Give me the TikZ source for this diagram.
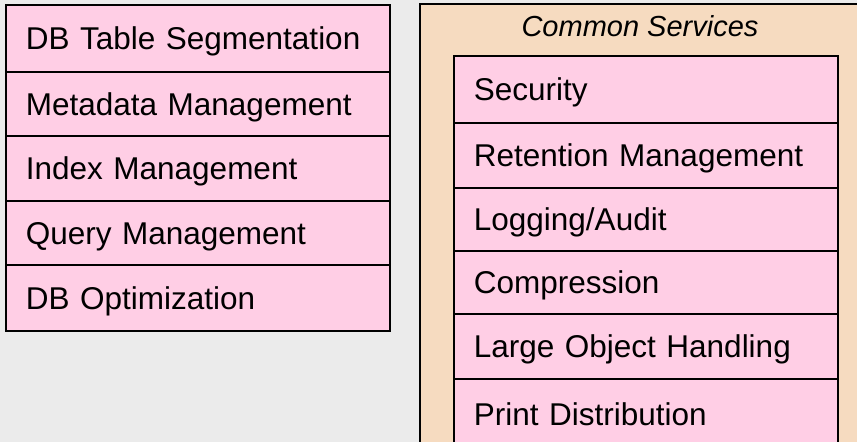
\documentclass[tikz,border=0pt]{standalone}
\usepackage{fontspec}
\setmainfont{Liberation Sans}
\definecolor{bgray}{RGB}{235,235,235}
\definecolor{rowpink}{RGB}{255,206,229}
\definecolor{tanfill}{RGB}{246,219,192}
\begin{document}
\begin{tikzpicture}[x=1bp,y=-1bp,
  rowbox/.style={draw=black, line width=1.8bp, fill=rowpink, anchor=north west,
    text width=344bp, inner xsep=20bp, inner ysep=0pt, minimum height=#1,
    text height=22.6bp, text depth=0pt, align=left,
    font=\fontsize{31.5bp}{36bp}\selectfont},
  outerbox/.style={draw=black, line width=2bp, fill=tanfill, anchor=north west,
    inner sep=0pt},
  titletext/.style={anchor=base, inner sep=0pt, font=\fontsize{29bp}{34bp}\selectfont\itshape}]
\useasboundingbox (0,0) rectangle (857,442);
\clip (0,0) rectangle (857,442);
\fill[bgray] (0,0) rectangle (857,442);
% left stack
\node[rowbox=67bp] (l1) at (5,4) {DB Table Segmentation};
\node[rowbox=64bp] (l2) at (5,71) {Metadata Management};
\node[rowbox=65bp] (l3) at (5,135) {Index Management};
\node[rowbox=64bp] (l4) at (5,200) {Query Management};
\node[rowbox=66bp] (l5) at (5,264) {DB Optimization};
% common services
\node[outerbox, minimum width=452bp, minimum height=470bp] (cs) at (419,3) {};
\node[titletext] (cst) at (640,37) {Common Services};
\node[rowbox=67bp] (r1) at (453,55) {Security};
\node[rowbox=65bp] (r2) at (453,122) {Retention Management};
\node[rowbox=63bp] (r3) at (453,187) {Logging/Audit};
\node[rowbox=63bp] (r4) at (453,250) {Compression};
\node[rowbox=65bp] (r5) at (453,313) {Large Object Handling};
\node[rowbox=70bp] (r6) at (453,378) {Print Distribution};
\end{tikzpicture}
\end{document}
